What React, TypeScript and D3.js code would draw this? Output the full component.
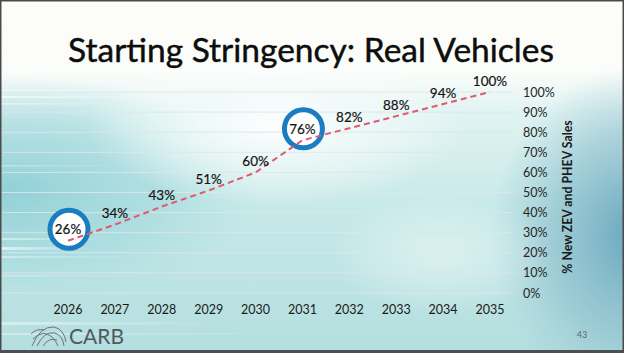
import React from 'react';
import * as d3 from 'd3';

// chart values
const years = ['2026', '2027', '2028', '2029', '2030', '2031', '2032', '2033', '2034', '2035'];
const shares = [26, 34, 43, 51, 60, 76, 82, 88, 94, 100];
const yTicks = [0, 10, 20, 30, 40, 50, 60, 70, 80, 90, 100];
const circled = ['2026', '2031'];

const title = 'Starting Stringency: Real Vehicles';
const axisTitle = '% New ZEV and PHEV Sales';

const W = 624;
const H = 353;
const font = 'Lato, "Open Sans", sans-serif';

// background streaks (decor only)
const streaks = [
  { y: 90, h: 1.5, x2: 200, o: 0.6 },
  { y: 96, h: 2, x2: 150, o: 0.6 },
  { y: 103, h: 1.5, x2: 120, o: 0.5 },
  { y: 165, h: 1.5, x2: 130, o: 0.35 },
  { y: 238, h: 2, x2: 110, o: 0.5 },
  { y: 247, h: 3, x2: 90, o: 0.6 },
  { y: 256, h: 2, x2: 140, o: 0.4 },
  { y: 275, h: 1.5, x2: 160, o: 0.35 },
  { y: 322, h: 3, x2: 220, o: 0.45 },
  { y: 333, h: 2, x2: 300, o: 0.35 },
];

const App = () => {
  const x = d3.scalePoint<string>().domain(years).range([68, 490]);
  const y = d3.scaleLinear().domain([0, 100]).range([293, 92]);

  const pts = years.map((yr, i) => ({ yr, v: shares[i] }));
  const line = d3.line<{ yr: string; v: number }>()
    .x(d => x(d.yr) as number)
    .y(d => y(d.v));

  const labelY = (v: number) => y(v) - 11.5;

  return (
    <svg width={W} height={H} style={{ position: 'absolute', left: 0, top: 0 }}>
      <defs>
        <linearGradient id="bgv" x1="0" y1="0" x2="0" y2="1">
          <stop offset="0" stopColor="#fdfdf9" />
          <stop offset="0.2" stopColor="#fbfdfa" />
          <stop offset="0.32" stopColor="#e0f3f2" />
          <stop offset="0.6" stopColor="#c6e9e8" />
          <stop offset="1" stopColor="#b4dedf" />
        </linearGradient>
        <radialGradient id="tealLeft" cx="0.5" cy="0.5" r="0.5">
          <stop offset="0" stopColor="#8fcfd6" stopOpacity="0.95" />
          <stop offset="0.6" stopColor="#9fd7dc" stopOpacity="0.6" />
          <stop offset="1" stopColor="#a8dbdf" stopOpacity="0" />
        </radialGradient>
        <radialGradient id="blueRight" cx="0.5" cy="0.5" r="0.5">
          <stop offset="0" stopColor="#5f9fb9" stopOpacity="0.95" />
          <stop offset="0.6" stopColor="#7db4c6" stopOpacity="0.5" />
          <stop offset="1" stopColor="#8fc0cd" stopOpacity="0" />
        </radialGradient>
        <radialGradient id="glow" cx="0.5" cy="0.5" r="0.5">
          <stop offset="0" stopColor="#ffffff" stopOpacity="0.95" />
          <stop offset="0.5" stopColor="#f6fcfb" stopOpacity="0.6" />
          <stop offset="1" stopColor="#ffffff" stopOpacity="0" />
        </radialGradient>
        <linearGradient id="streak" x1="0" y1="0" x2="1" y2="0">
          <stop offset="0" stopColor="#ffffff" stopOpacity="1" />
          <stop offset="1" stopColor="#ffffff" stopOpacity="0" />
        </linearGradient>
      </defs>

      {/* background */}
      <rect x={0} y={0} width={W} height={H} fill="url(#bgv)" />
      <ellipse cx={10} cy={190} rx={250} ry={115} fill="url(#tealLeft)" />
      <ellipse cx={640} cy={235} rx={150} ry={170} fill="url(#blueRight)" />
      <ellipse cx={275} cy={125} rx={190} ry={80} fill="url(#glow)" />
      <ellipse cx={440} cy={255} rx={110} ry={60} fill="url(#glow)" opacity={0.45} />
      {streaks.map((s, i) => (
        <rect key={i} x={0} y={s.y} width={s.x2} height={s.h} fill="url(#streak)" opacity={s.o} />
      ))}

      {/* gridlines */}
      {yTicks.map(t => (
        <line key={t} x1={2} x2={513} y1={y(t)} y2={y(t)} stroke="#dce8e8" strokeWidth={1} opacity={0.9} />
      ))}

      {/* title */}
      <text x={311} y={62} textAnchor="middle" fontFamily={font} fontSize={33.5} fill="#0d0d0d"
        stroke="#0d0d0d" strokeWidth={0.45}>
        {title}
      </text>

      {/* circles */}
      {circled.map(yr => {
        const v = shares[years.indexOf(yr)];
        return (
          <circle key={yr} cx={(x(yr) as number) + 1} cy={labelY(v)} r={19}
            fill="#ffffff" stroke="#1a7cc1" strokeWidth={5} />
        );
      })}

      {/* dashed line */}
      <path d={line(pts) || ''} fill="none" stroke="#e0596c" strokeWidth={2}
        strokeDasharray="6,4" />

      {/* data labels */}
      {pts.map(d => (
        <text key={d.yr} x={x(d.yr) as number} y={labelY(d.v)} textAnchor="middle"
          dominantBaseline="central" fontFamily={font} fontSize={13.5} fill="#151515"
          stroke="#151515" strokeWidth={0.2}>
          {d.v}%
        </text>
      ))}

      {/* right axis */}
      {yTicks.map(t => (
        <text key={t} x={523} y={y(t)} dominantBaseline="central" fontFamily={font}
          fontSize={12.5} fill="#262626">
          {t}%
        </text>
      ))}
      <text transform={`translate(567,197) rotate(-90)`} textAnchor="middle"
        dominantBaseline="central" fontFamily={font} fontSize={12.3} fontWeight="bold" fill="#1a1a1a">
        {axisTitle}
      </text>

      {/* x labels */}
      {years.map(yr => (
        <text key={yr} x={x(yr) as number} y={309} textAnchor="middle" dominantBaseline="central"
          fontFamily={font} fontSize={12.5} fill="#1a1a1a">
          {yr}
        </text>
      ))}

      {/* CARB logo */}
      <g fill="none" stroke="#6b7378" strokeWidth={1}>
        <path d="M32,346 Q40,326 54,327 Q64,329 66,342" />
        <path d="M37,346 Q44,331 55,333 Q63,336 64,346" />
        <path d="M33,339 Q43,329 52,337 Q56,341 58,346" />
        <path d="M43,346 Q49,337 57,340" />
        <path d="M31,334 Q37,328 44,330" />
      </g>
      <text x={69} y={344} fontFamily={font} fontSize={21} fill="#4f5a60">CARB</text>
      <text x={582} y={334} textAnchor="middle" dominantBaseline="central" fontFamily={font}
        fontSize={9} fill="#5a6a70">43</text>

      {/* frame */}
      <rect x={0.75} y={0.75} width={W - 1.5} height={H - 1.5} fill="none" stroke="#4a4a4a" strokeWidth={1.5} />
      <rect x={0} y={350} width={W} height={3} fill="#4a4f52" />
    </svg>
  );
};

export default App;
